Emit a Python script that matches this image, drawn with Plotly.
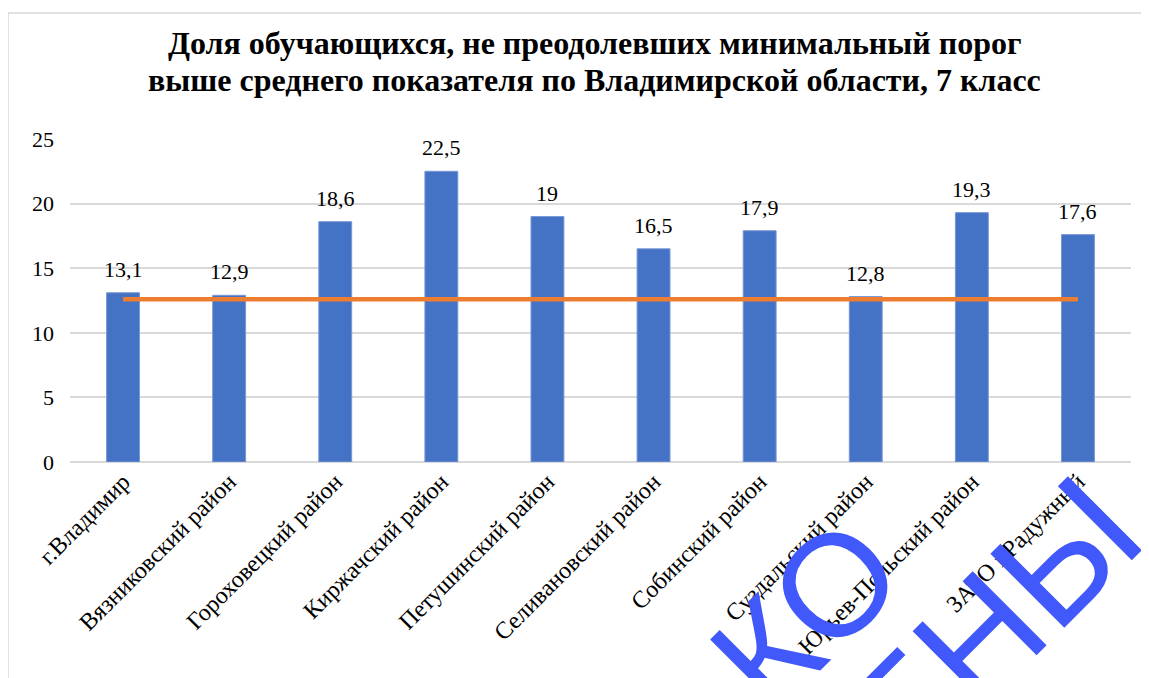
import plotly.graph_objects as go

categories = ["г.Владимир", "Вязниковский район", "Гороховецкий район", "Киржачский район",
              "Петушинский район", "Селивановский район", "Собинский район",
              "Суздальский район", "Юрьев-Польский район", "ЗАТО г.Радужный"]
values = [13.1, 12.9, 18.6, 22.5, 19, 16.5, 17.9, 12.8, 19.3, 17.6]
region_avg = 12.6
yticks = [0, 5, 10, 15, 20, 25]
title_lines = ["Доля обучающихся, не преодолевших минимальный порог",
               "выше среднего показателя по Владимирской области, 7 класс"]
watermark_words = ["ТОЛЬКО", "ЕНЫ"]

OFF = 8  # page body margin
W, H = 1149, 678
SX0, SX1, SY0, SY1 = 70, 1131, 139, 462
ML, MR = SX0 - OFF, W - (SX1 - OFF)
MT, MB = SY0 - OFF, H - (SY1 - OFF)
PW, PH = SX1 - SX0, SY1 - SY0

def px_to_paper(px, py):
    return (px - SX0) / PW, (SY1 - py) / PH

SERIF = "Times New Roman"

fig = go.Figure()
fig.add_trace(go.Bar(
    x=categories, y=values,
    marker=dict(color="#4472C4", line=dict(color="#7A97D6", width=1)),
    width=0.31, hoverinfo="x+y", showlegend=False,
))
fig.add_trace(go.Scatter(
    x=categories, y=[region_avg] * len(categories), mode="lines",
    line=dict(color="#ED7D31", width=4.5), showlegend=False,
))

annotations = []
for c, v in zip(categories, values):
    annotations.append(dict(
        x=c, y=v, xref="x", yref="y", text=f"{v:g}".replace(".", ","),
        showarrow=False, yanchor="bottom", yshift=9,
        font=dict(family=SERIF, size=22, color="#000000"),
    ))

# title, one annotation per line
for line, cy in zip(title_lines, [43, 80]):
    xp, yp = px_to_paper(594, cy)
    annotations.append(dict(
        x=xp, y=yp, xref="paper", yref="paper", text=f"<b>{line}</b>", showarrow=False,
        xanchor="center", yanchor="middle",
        font=dict(family=SERIF, size=32, color="#000000"),
    ))

wm_pos = [(670, 750), (991, 626)]
wm_size = [145, 152]
for word, (px, py), sz in zip(watermark_words, wm_pos, wm_size):
    xp, yp = px_to_paper(px, py)
    annotations.append(dict(
        x=xp, y=yp, xref="paper", yref="paper", text=word, showarrow=False,
        textangle=-45, xanchor="center", yanchor="middle",
        font=dict(family="Liberation Sans", size=sz, color="#4159FA"),
    ))

bx0, by0 = px_to_paper(8, 13)
bx1, by1 = px_to_paper(1170, 700)
shapes = [dict(type="rect", xref="paper", yref="paper", x0=bx0, y0=by1, x1=bx1, y1=by0,
               line=dict(color="#D9D9D9", width=1.5), layer="below")]

fig.update_layout(
    width=W, height=H,
    margin=dict(l=ML, r=MR, t=MT, b=MB),
    paper_bgcolor="#FFFFFF", plot_bgcolor="#FFFFFF",
    xaxis=dict(tickangle=-45, tickfont=dict(family=SERIF, size=24, color="#000000"),
               showgrid=False, showline=False, ticks="", range=[-0.5, 9.5]),
    yaxis=dict(range=[0, 25], tickvals=yticks, tickfont=dict(family=SERIF, size=22, color="#000000"),
               gridcolor="#D9D9D9", gridwidth=1.5, zeroline=True, zerolinecolor="#D9D9D9",
               zerolinewidth=1.5, showline=False, ticklabelstandoff=15),
    annotations=annotations, shapes=shapes,
    bargap=0.69,
)

fig.write_html("out.html")
